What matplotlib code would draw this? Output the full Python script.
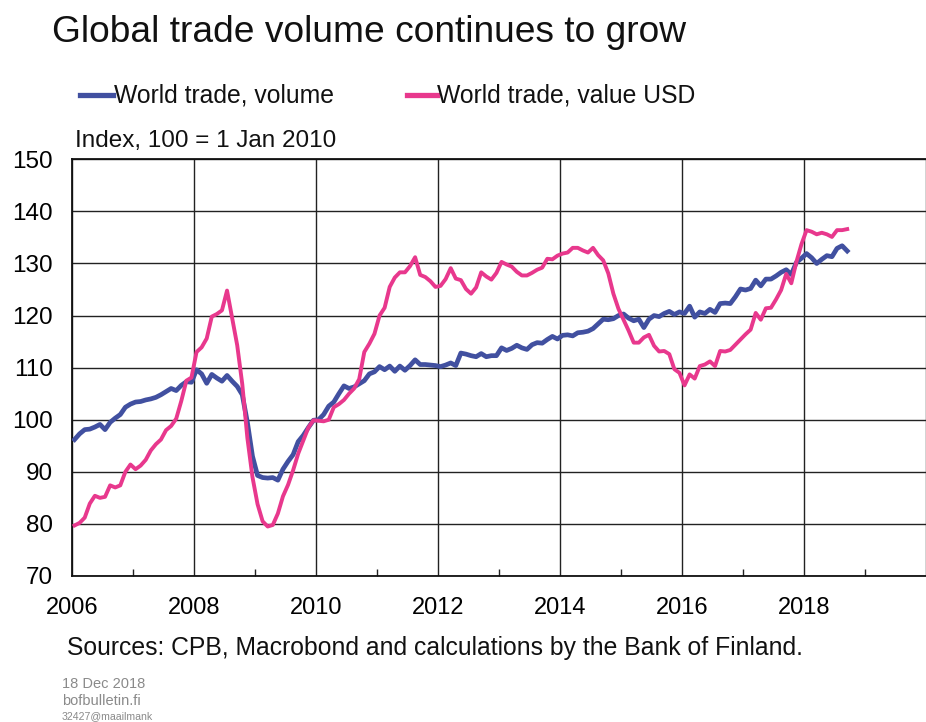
import matplotlib
matplotlib.use("Agg")
import matplotlib.pyplot as plt
import numpy as np

# ---- data (monthly, Jan 2006 .. Sep 2018) ----
start_year = 2006
volume = [
    96.2, 97.3, 98.1, 98.2, 98.6, 99.1, 98.1, 99.5, 100.3, 101.0, 102.4, 103.0,
    103.4, 103.5, 103.8, 104.0, 104.3, 104.8, 105.4, 106.0, 105.6, 106.6, 107.3, 107.2,
    109.6, 108.8, 107.0, 108.7, 108.0, 107.4, 108.5, 107.4, 106.4, 104.8, 99.5, 93.0,
    89.3, 88.9, 88.8, 88.9, 88.4, 90.5, 92.0, 93.3, 95.8, 97.0, 98.5, 99.9,
    100.0, 101.0, 102.6, 103.4, 105.0, 106.5, 106.0, 106.3, 106.9, 107.5, 108.8, 109.2,
    110.2, 109.6, 110.3, 109.3, 110.3, 109.5, 110.4, 111.5, 110.6, 110.6, 110.5, 110.4,
    110.2, 110.5, 110.9, 110.4, 112.8, 112.6, 112.3, 112.1, 112.7, 112.1, 112.3, 112.3,
    113.8, 113.3, 113.7, 114.3, 113.8, 113.5, 114.4, 114.8, 114.7, 115.4, 116.0, 115.5,
    116.2, 116.3, 116.1, 116.7, 116.8, 117.0, 117.5, 118.4, 119.3, 119.2, 119.4, 120.0,
    120.3, 119.5, 119.0, 119.3, 117.7, 119.3, 120.0, 119.8, 120.4, 120.8, 120.2, 120.7,
    120.4, 121.8, 119.7, 120.7, 120.4, 121.2, 120.6, 122.3, 122.4, 122.3, 123.6, 125.1,
    124.9, 125.2, 126.8, 125.7, 127.0, 127.0, 127.6, 128.3, 128.8, 127.9, 130.2, 131.0,
    131.9, 131.1, 130.0, 130.8, 131.5, 131.3, 132.9, 133.4, 132.4,
]
value_usd = [
    79.7, 80.2, 81.2, 83.9, 85.4, 85.0, 85.2, 87.4, 87.0, 87.4, 90.0, 91.4,
    90.5, 91.2, 92.3, 94.1, 95.3, 96.2, 98.0, 98.8, 100.2, 103.6, 107.5, 108.1,
    113.0, 113.9, 115.6, 119.8, 120.3, 121.0, 124.8, 119.6, 114.3, 106.8, 96.5, 89.0,
    83.8, 80.5, 79.5, 79.8, 82.0, 85.3, 87.5, 90.3, 93.5, 96.0, 98.5, 99.9,
    99.8, 99.7, 100.0, 102.4, 103.0, 103.8, 105.0, 106.0, 107.8, 113.0, 114.6, 116.5,
    120.0, 121.5, 125.5, 127.3, 128.3, 128.3, 129.5, 131.2, 127.8, 127.4, 126.6, 125.5,
    125.7, 127.0, 129.1, 127.1, 126.8, 125.1, 124.2, 125.4, 128.3, 127.5, 126.9, 128.2,
    130.3, 129.8, 129.4, 128.4, 127.7, 127.7, 128.2, 128.8, 129.2, 130.9, 130.8, 131.5,
    131.9, 132.1, 133.0, 133.0, 132.5, 132.1, 133.0, 131.6, 130.6, 128.1, 124.2, 121.3,
    119.2, 117.1, 114.8, 114.8, 115.8, 116.3, 114.2, 113.1, 113.2, 112.6, 109.7, 109.0,
    106.6, 108.7, 107.9, 110.3, 110.6, 111.2, 110.3, 113.2, 113.1, 113.4, 114.4, 115.4,
    116.4, 117.3, 120.5, 119.2, 121.4, 121.5, 123.1, 124.9, 128.0, 126.2, 130.3, 133.7,
    136.4, 136.1, 135.6, 135.9, 135.6, 135.1, 136.4, 136.4, 136.6,
]
series_names = ["World trade, volume", "World trade, value USD"]
year_ticks = [2006, 2008, 2010, 2012, 2014, 2016, 2018]
y_ticks = [70, 80, 90, 100, 110, 120, 130, 140, 150]

title = "Global trade volume continues to grow"
unit_label = "Index, 100 = 1 Jan 2010"
source = "Sources: CPB, Macrobond and calculations by the Bank of Finland."
footer = ["18 Dec 2018", "bofbulletin.fi"]
footer_small = "32427@maailmank"

BLUE = "#4150a0"
PINK = "#e8388d"

plt.rcParams["font.family"] = ["Liberation Sans", "DejaVu Sans"]

t = start_year + (np.arange(len(volume)) + 0.5) / 12.0
t2 = start_year + (np.arange(len(value_usd)) + 0.5) / 12.0

fig = plt.figure(figsize=(9.26, 7.22), dpi=100)
ax = fig.add_axes([72 / 926, 1 - 576 / 722, 1 - 72 / 926, (576 - 159.3) / 722])

ax.set_xlim(2006, 2019.82)
ax.set_ylim(70, 150)

ax.set_yticks(y_ticks)
ax.set_xticks(year_ticks + [2020])
ax.set_xticklabels([str(y) for y in year_ticks] + [""])
ax.set_xticks(np.arange(2007, 2020, 2), minor=True)

ax.grid(True, which="major", color="#222222", linewidth=1.0)
ax.set_axisbelow(True)

ax.tick_params(axis="y", which="major", length=0, pad=14, labelsize=17.5)
ax.tick_params(axis="x", which="major", length=0, pad=15, labelsize=17)
ax.tick_params(axis="x", which="minor", direction="in", length=5, width=1.0, color="#222222")

for s in ["left", "bottom", "top"]:
    ax.spines[s].set_color("#111111")
    ax.spines[s].set_linewidth(1.3)
ax.spines["right"].set_visible(False)

ax.plot(t, volume, color=BLUE, linewidth=3.4, solid_joinstyle="round", zorder=3)
ax.plot(t2, value_usd, color=PINK, linewidth=2.8, solid_joinstyle="round", zorder=4)

# title
fig.text(52 / 926, 1 - 33 / 722, title, fontsize=26.7, va="center", ha="left", color="#111111")

# legend (manual)
def legend_item(x0, x1, xt, color, label):
    fig.add_artist(plt.Line2D([x0 / 926, x1 / 926], [1 - 95 / 722, 1 - 95 / 722],
                              color=color, linewidth=3.8, transform=fig.transFigure))
    fig.text(xt / 926, 1 - 95 / 722, label, fontsize=17.8, va="center", ha="left", color="#111111")

legend_item(80, 113, 114, BLUE, series_names[0])
legend_item(407, 437, 437, PINK, series_names[1])

fig.text(75 / 926, 1 - 141 / 722, unit_label, fontsize=17.5, va="center", ha="left", color="#111111")

fig.text(67 / 926, 1 - 648 / 722, source, fontsize=17.8, va="center", ha="left", color="#111111")

fig.text(62 / 926, 1 - 684 / 722, footer[0], fontsize=10.5, va="center", ha="left", color="#8a8a8a")
fig.text(62 / 926, 1 - 701 / 722, footer[1], fontsize=10.5, va="center", ha="left", color="#8a8a8a")
fig.text(62 / 926, 1 - 716 / 722, footer_small, fontsize=7.6, va="center", ha="left", color="#8a8a8a")

fig.savefig("out.png", dpi=100, facecolor="white")
